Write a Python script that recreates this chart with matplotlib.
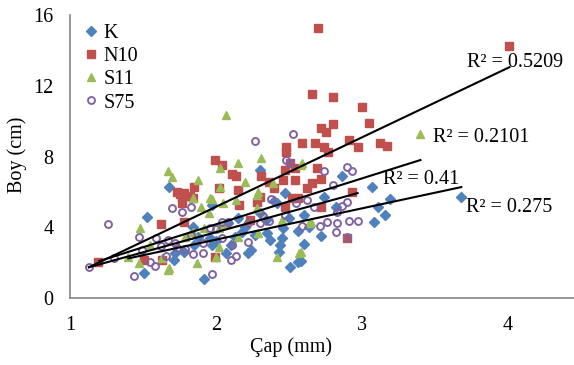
import matplotlib
matplotlib.use("Agg")
import matplotlib.pyplot as plt

plt.rcParams['font.family'] = ['Liberation Serif', 'DejaVu Serif']

# K (blue diamonds)
k_x = [1.51, 1.53, 1.68, 1.71, 1.72, 1.78, 1.84, 1.85, 1.88, 1.92, 1.96, 1.97, 1.97, 2.00, 2.07, 2.08,
       2.10, 2.13, 2.15, 2.18, 2.20, 2.22, 2.24, 2.27, 2.30, 2.30, 2.34, 2.35, 2.37, 2.40, 2.42, 2.43,
       2.44, 2.45, 2.46, 2.47, 2.50, 2.51, 2.56, 2.56, 2.58, 2.60, 2.60, 2.64, 2.72, 2.74, 2.82, 2.86,
       3.07, 3.08, 3.11, 3.16, 3.19, 3.68]
k_y = [1.43, 4.56, 6.29, 2.15, 2.52, 2.62, 4.03, 3.00, 3.46, 1.07, 3.37, 2.99, 5.25, 3.20, 2.52, 4.22,
       3.00, 3.46, 4.50, 3.75, 4.00, 2.52, 2.71, 3.56, 7.23, 4.80, 4.41, 3.65, 3.28, 5.50, 5.35, 2.62,
       2.99, 3.41, 3.94, 5.95, 4.50, 1.77, 2.05, 3.79, 2.11, 3.03, 4.69, 4.03, 3.52, 5.69, 5.16, 6.91,
       6.29, 4.28, 5.16, 4.69, 5.59, 5.69]

# N10 (red squares)
n10_x = [1.19, 1.51, 1.62, 1.63, 1.73, 1.75, 1.77, 1.77, 1.78, 1.78, 1.82, 1.84, 1.85, 1.99, 1.99, 2.02,
         2.04, 2.11, 2.14, 2.15, 2.16, 2.23, 2.28, 2.30, 2.31, 2.36, 2.40, 2.46, 2.47, 2.47, 2.48, 2.48,
         2.51, 2.52, 2.54, 2.54, 2.56, 2.59, 2.62, 2.66, 2.66, 2.68, 2.69, 2.70, 2.72, 2.72, 2.72, 2.74,
         2.75, 2.77, 2.80, 2.80, 2.90, 2.91, 2.93, 2.97, 3.00, 3.05, 3.12, 3.17, 4.01]
n10_y = [2.05, 2.15, 4.16, 2.15, 5.97, 5.88, 5.35, 5.63, 5.92, 4.31, 5.76, 5.63, 6.29, 7.80, 2.33, 6.20,
         7.51, 7.01, 6.89, 6.10, 5.25, 4.41, 5.44, 5.72, 6.89, 6.57, 6.20, 6.67, 7.23, 5.16, 8.55, 8.27,
         7.61, 5.63, 7.33, 6.67, 5.63, 8.78, 6.20, 6.48, 11.53, 8.78, 7.33, 15.24, 9.62, 6.71, 5.16, 8.51,
         9.40, 8.27, 9.83, 11.34, 3.37, 8.93, 6.01, 8.51, 10.81, 9.90, 8.74, 8.59, 14.24]

# S11 (green triangles)
s11_x = [1.40, 1.47, 1.48, 1.55, 1.63, 1.67, 1.67, 1.68, 1.70, 1.79, 1.84, 1.84, 1.87, 1.88, 1.90, 1.92,
         1.95, 1.96, 1.97, 2.00, 2.02, 2.02, 2.03, 2.03, 2.05, 2.05, 2.07, 2.14, 2.15, 2.15, 2.20, 2.28,
         2.28, 2.29, 2.29, 2.31, 2.39, 2.42, 2.45, 2.57, 2.58, 2.58, 2.59, 2.64, 2.65, 3.40]
s11_y = [2.33, 1.96, 3.94, 2.99, 2.24, 1.58, 7.19, 1.68, 6.82, 3.46, 3.75, 5.63, 1.96, 6.67, 5.16, 3.94,
         4.78, 5.63, 5.59, 2.33, 2.90, 3.94, 7.33, 6.25, 5.35, 4.12, 10.34, 5.54, 7.61, 3.46, 6.57, 5.82,
         5.07, 6.01, 3.65, 7.89, 6.48, 2.33, 4.41, 2.52, 2.62, 7.51, 7.61, 4.22, 4.28, 9.27]

# S75 (purple open circles)
s75_x = [1.13, 1.26, 1.30, 1.44, 1.47, 1.49, 1.55, 1.58, 1.59, 1.62, 1.66, 1.67, 1.70, 1.72, 1.73, 1.77,
         1.79, 1.83, 1.83, 1.84, 1.91, 1.91, 1.96, 1.97, 2.00, 2.04, 2.04, 2.08, 2.10, 2.11, 2.14, 2.22,
         2.22, 2.27, 2.30, 2.32, 2.36, 2.38, 2.47, 2.48, 2.51, 2.53, 2.55, 2.59, 2.62, 2.67, 2.71, 2.74,
         2.76, 2.80, 2.82, 2.83, 2.83, 2.86, 2.90, 2.90, 2.90, 2.91, 2.93, 2.97]
s75_y = [1.75, 4.18, 2.28, 1.26, 3.46, 2.71, 2.05, 1.83, 3.37, 2.96, 2.37, 3.28, 5.07, 3.09, 2.81, 4.88,
         2.77, 5.16, 3.56, 2.47, 3.09, 2.52, 3.94, 1.36, 3.90, 4.31, 3.37, 4.28, 2.15, 2.99, 2.39, 3.18,
         4.22, 8.89, 4.22, 4.65, 4.35, 5.59, 4.69, 7.80, 7.61, 9.30, 5.35, 4.08, 5.54, 5.16, 4.08, 7.19,
         4.28, 6.38, 3.75, 4.88, 4.26, 5.20, 7.42, 5.44, 3.43, 4.37, 7.19, 4.37]

# trend lines (start x, start y, end x, end y) and their R² labels
trend_k = [1.40, 2.24, 3.68, 6.27]
trend_n10 = [1.13, 1.74, 4.01, 13.05]
trend_s11 = [1.20, 2.09, 3.40, 7.80]
trend_s75 = [1.13, 1.74, 2.97, 5.93]
r2_labels = ['R² = 0.275', 'R² = 0.5209', 'R² = 0.2101', 'R² = 0.41']
r2_pos = [(3.712, 5.12), (3.72, 13.30), (3.486, 9.10), (3.144, 6.70)]

fig = plt.figure(figsize=(5.74, 3.65), dpi=100)
ax = fig.add_axes([70 / 574, 1 - 298 / 365, 504 / 574, 283 / 365])

ax.plot(k_x, k_y, ls='none', marker='D', ms=4.6, color='#4F81BD', mec='#4F81BD', label='K')
ax.plot(n10_x, n10_y, ls='none', marker='s', ms=5.3, color='#C0504D', mec='#C0504D', label='N10')
ax.plot(s11_x, s11_y, ls='none', marker='^', ms=6.3, color='#9BBB59', mec='#9BBB59', label='S11')
ax.plot(s75_x, s75_y, ls='none', marker='o', ms=5.0, mfc='none', mec='#8064A2', mew=1.4, label='S75')

for t in [trend_k, trend_n10, trend_s11, trend_s75]:
    ax.plot([t[0], t[2]], [t[1], t[3]], color='black', lw=1.5, zorder=5)

for lab, (tx, ty) in zip(r2_labels, r2_pos):
    ax.text(tx, ty, lab, fontsize=14.5, ha='left', va='center', zorder=6)

ax.set_xlim(1, 1 + 504 / 146)
ax.set_ylim(0, 16)
ax.set_xticks([1, 2, 3, 4])
ax.set_yticks([0, 4, 8, 12, 16])
ax.tick_params(axis='both', length=0, labelsize=14.5)
ax.tick_params(axis='x', pad=13)
ax.tick_params(axis='y', pad=12)
for s in ['top', 'right']:
    ax.spines[s].set_visible(False)
for s in ['left', 'bottom']:
    ax.spines[s].set_color('#868686')
    ax.spines[s].set_linewidth(1.2)

fig.text(291 / 574, 1 - 347 / 365, 'Çap (mm)', fontsize=14.5, ha='center', va='center')
fig.text(17 / 574, 1 - 155 / 365, 'Boy (cm)', fontsize=14.5, ha='center', va='center', rotation=90)

ax.legend(loc='upper left', bbox_to_anchor=(0.03, 0.968), frameon=False, fontsize=14.5,
          handlelength=0.6, handletextpad=0.3, labelspacing=0.2, borderpad=0, borderaxespad=0)

fig.savefig('out.png', dpi=100)
